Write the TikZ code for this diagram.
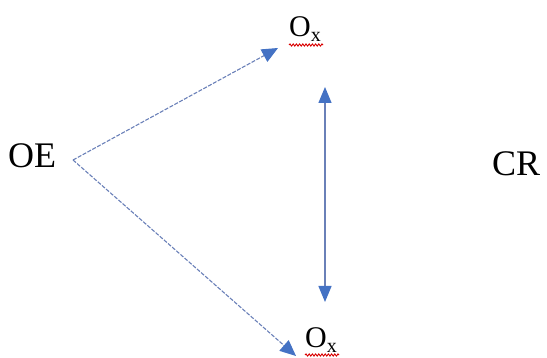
\documentclass[tikz,border=0pt]{standalone}
\usepackage{fontspec}
\setmainfont{Liberation Serif}
\usetikzlibrary{arrows.meta,decorations.pathmorphing}
\definecolor{arrblue}{HTML}{4472C4}
\definecolor{lineblue}{HTML}{6A80B8}
\newcommand{\oxsub}{\raisebox{-5pt}{\fontsize{20}{22}\selectfont x}}
\begin{document}
\begin{tikzpicture}[x=1pt,y=1pt,
  bigtxt/.style={inner sep=0pt,font=\fontsize{36}{40}\selectfont},
  oxtxt/.style={inner sep=0pt,font=\fontsize{30}{33}\selectfont},
  dasharrow/.style={draw=lineblue,line width=1.1pt,dash pattern=on 4pt off 1.5pt,
    -{Triangle[length=16pt,width=14pt,fill=arrblue,color=arrblue]}},
  dblarrow/.style={draw=lineblue,line width=1.4pt,
    {Triangle[length=16pt,width=13pt,fill=arrblue,color=arrblue]}-{Triangle[length=16pt,width=13pt,fill=arrblue,color=arrblue]}},
  squig/.style={draw=red!85!black,line width=0.9pt,decorate,
    decoration={snake,amplitude=1.1pt,segment length=3.2pt}}]
\useasboundingbox (0,0) rectangle (547,-358);
\node[bigtxt,anchor=base west] (OE) at (8,-168) {OE};
\node[bigtxt,anchor=base west] (CR) at (492,-176) {CR};
\node[oxtxt,anchor=base west] (OxT) at (289,-37) {O\oxsub};
\node[oxtxt,anchor=base west] (OxB) at (305,-348) {O\oxsub};
\coordinate (start) at (73,-160);
\coordinate (tipT) at (278,-48);
\coordinate (tipB) at (296,-356);
\coordinate (vTop) at (325,-87);
\coordinate (vBot) at (325,-302);
\draw[dasharrow] (start) -- (tipT);
\draw[dasharrow] (start) -- (tipB);
\draw[dblarrow] (vTop) -- (vBot);
\draw[squig] ([yshift=-8pt]OxT.base west) -- ([yshift=-8pt,xshift=2pt]OxT.base east);
\draw[squig] ([yshift=-7pt]OxB.base west) -- ([yshift=-7pt,xshift=2pt]OxB.base east);
\end{tikzpicture}
\end{document}
